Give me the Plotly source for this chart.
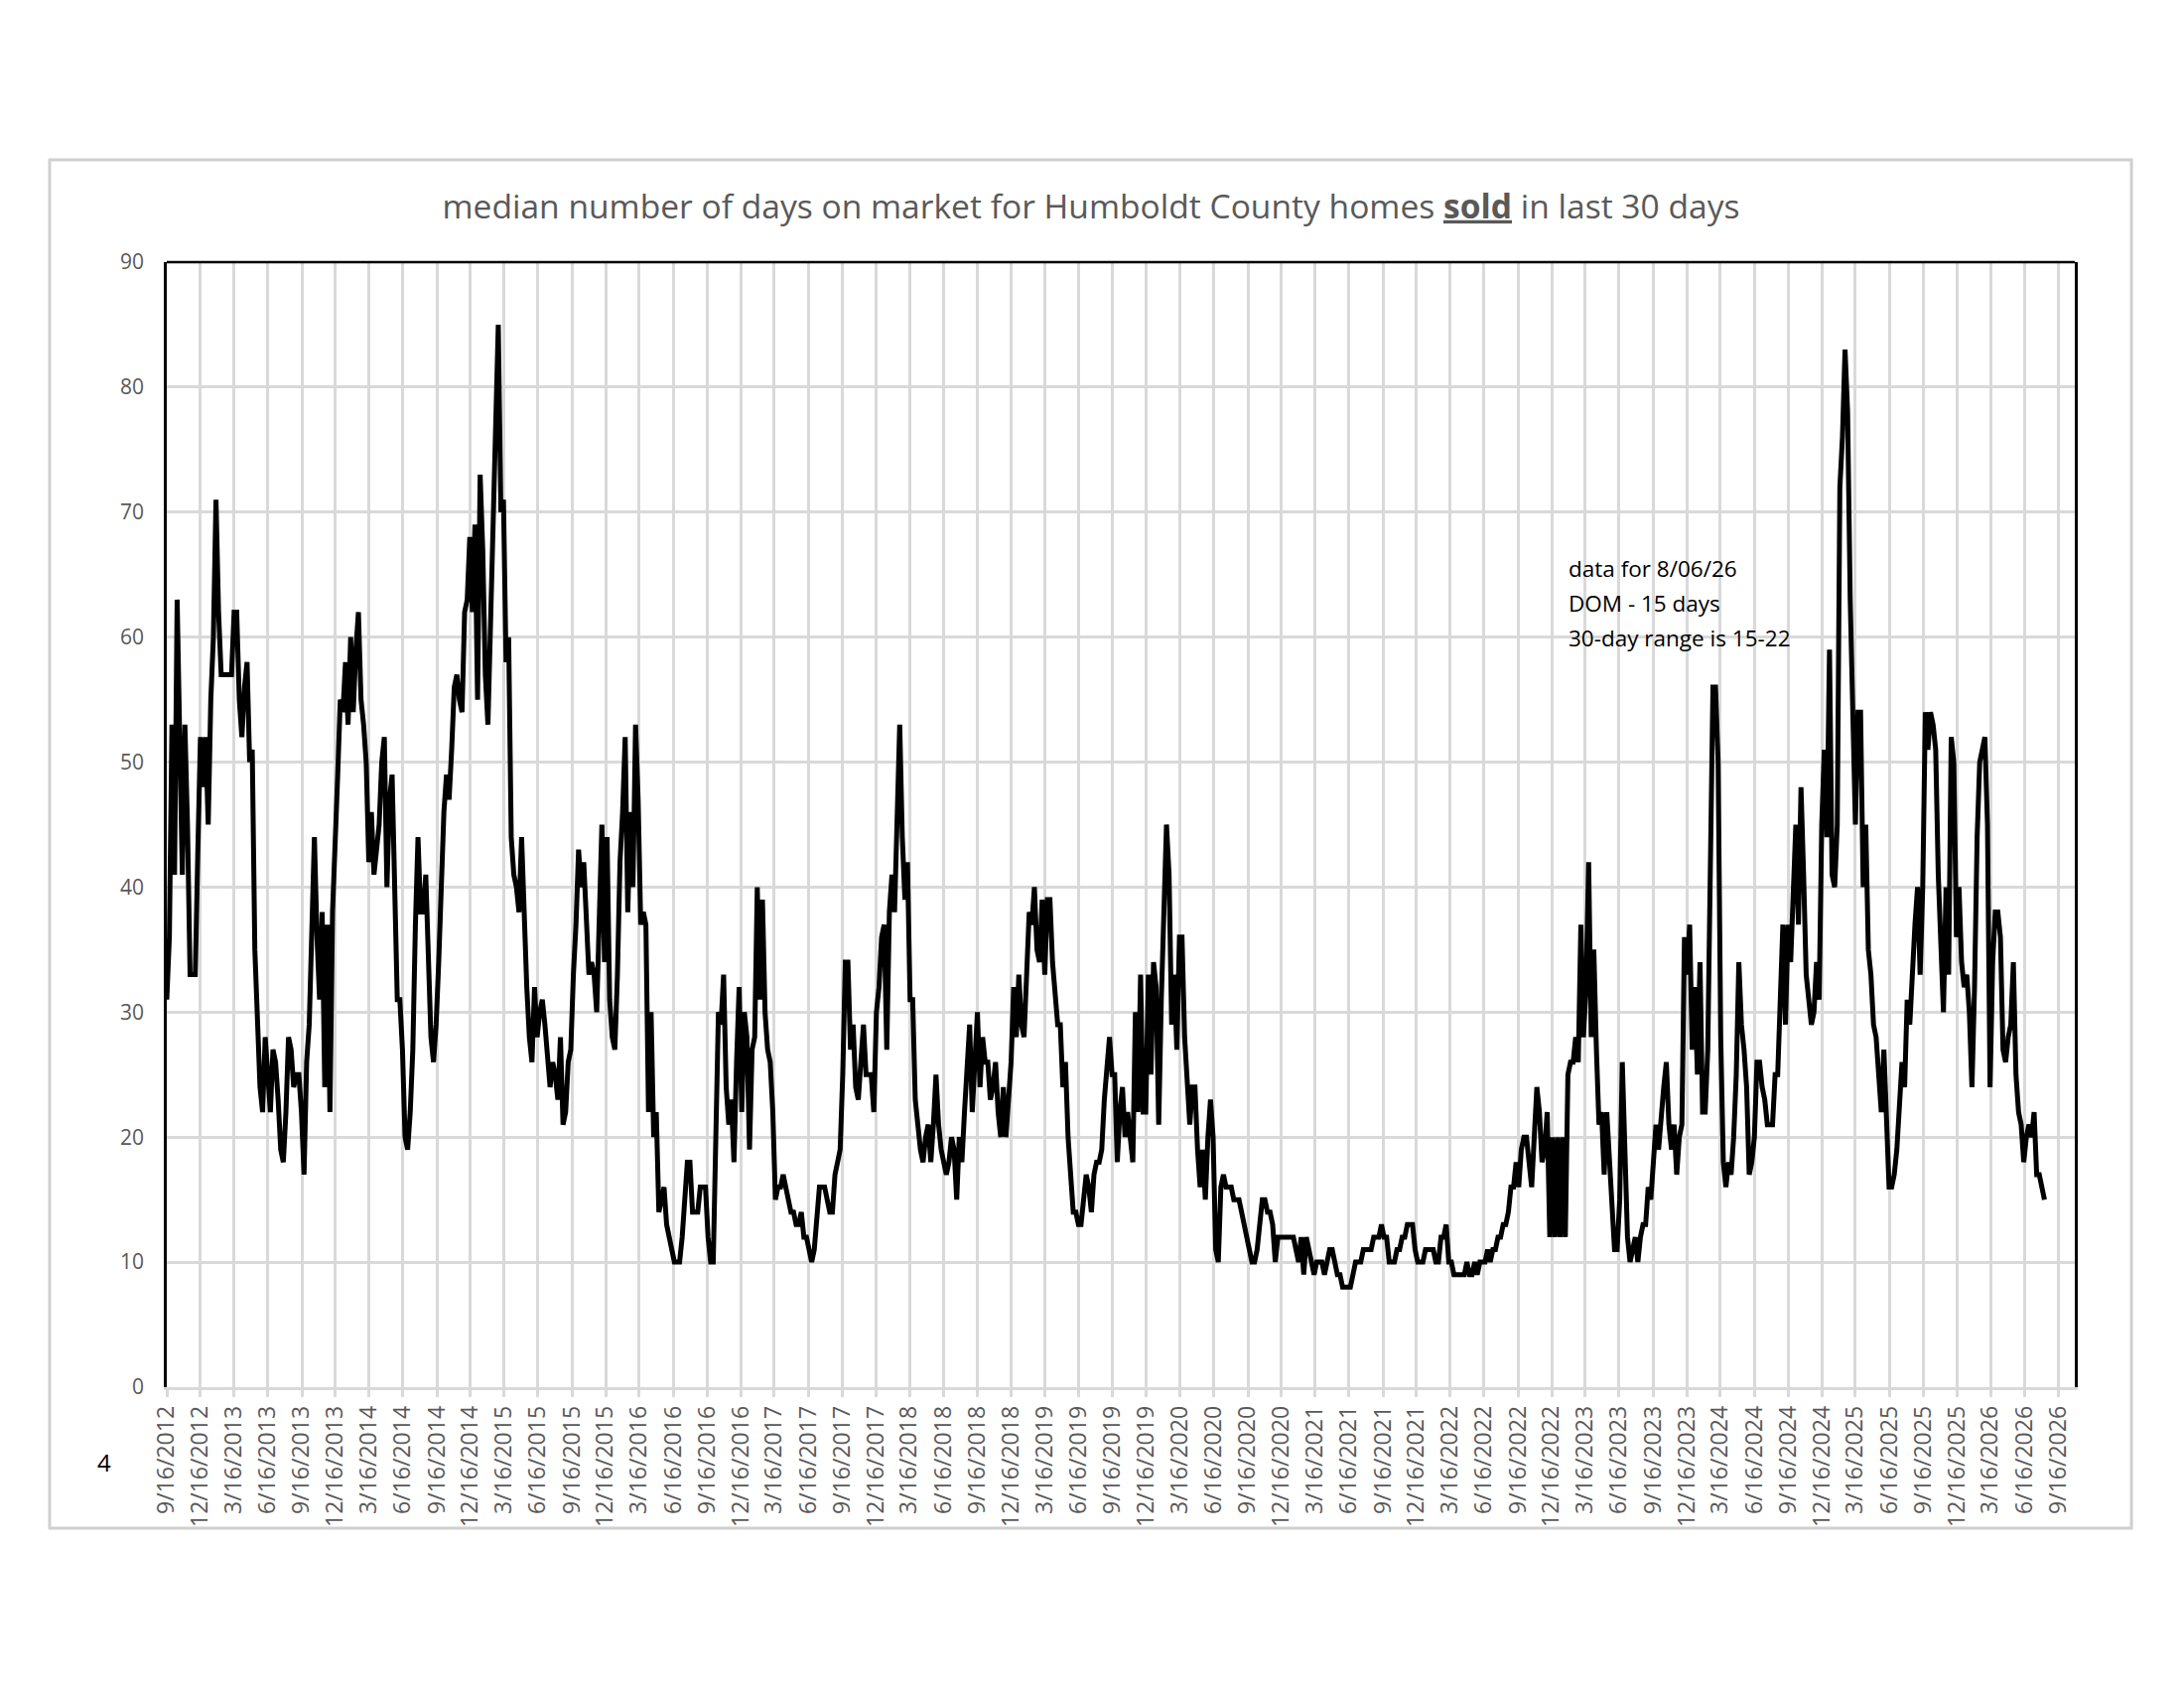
import pandas as pd
import plotly.graph_objects as go

# weekly readings of median days on market, starting 9/16/2012
dom_2012 = [31, 36, 53, 41, 63, 52, 41, 53, 45, 33, 33, 33, 43, 52, 48, 52, 45, 55, 60, 71,
            62, 57, 57, 57, 57, 57, 62, 62, 55, 52, 56, 58, 50, 51, 35, 29, 24, 22, 28, 25,
            22, 27, 26, 23, 19, 18, 22, 28, 27, 24, 25, 25]
dom_2013 = [22, 17, 26, 29, 38, 44, 36, 31, 38, 24, 37, 22, 38, 45, 49, 55, 54, 58, 53, 60,
            54, 59, 62, 55, 53, 50, 42, 46, 41, 43, 45, 50, 52, 40, 47, 49, 38, 31, 31, 27,
            20, 19, 22, 27, 37, 44, 38, 38, 41, 33, 28, 26]
dom_2014 = [29, 34, 40, 46, 49, 47, 51, 56, 57, 55, 54, 62, 63, 68, 62, 69, 55, 73, 67, 57,
            53, 62, 70, 77, 85, 70, 71, 58, 60, 44, 41, 40, 38, 44, 37, 32, 28, 26, 32, 28,
            30, 31, 29, 26, 24, 26, 25, 23, 28, 21, 22, 26]
dom_2015 = [27, 33, 37, 43, 40, 42, 37, 33, 34, 33, 30, 39, 45, 34, 44, 31, 28, 27, 33, 42,
            46, 52, 38, 46, 40, 53, 47, 37, 38, 37, 22, 30, 20, 22, 14, 15, 16, 13, 12, 11,
            10, 10, 10, 12, 15, 18, 18, 14, 14, 14, 16, 16]
dom_2016 = [16, 12, 10, 10, 22, 30, 29, 33, 24, 21, 23, 18, 26, 32, 22, 30, 28, 19, 27, 28,
            40, 31, 39, 30, 27, 26, 22, 15, 16, 16, 17, 16, 15, 14, 14, 13, 13, 14, 12, 12,
            11, 10, 11, 14, 16, 16, 16, 15, 14, 14, 17, 18]
dom_2017 = [19, 25, 34, 34, 27, 29, 24, 23, 26, 29, 25, 25, 25, 22, 30, 32, 36, 37, 27, 38,
            41, 38, 45, 53, 44, 39, 42, 31, 31, 23, 21, 19, 18, 20, 21, 18, 21, 25, 21, 19,
            18, 17, 18, 20, 19, 15, 20, 18, 22, 26, 29, 22]
dom_2018 = [27, 30, 24, 28, 26, 26, 23, 24, 26, 22, 20, 24, 20, 23, 26, 32, 28, 33, 29, 28,
            34, 38, 37, 40, 35, 34, 39, 33, 39, 39, 34, 31, 29, 29, 24, 26, 20, 17, 14, 14,
            13, 13, 15, 17, 16, 14, 17, 18, 18, 19, 23, 26]
dom_2019 = [28, 25, 25, 18, 22, 24, 20, 22, 20, 18, 30, 22, 33, 22, 22, 33, 25, 34, 32, 21,
            31, 38, 45, 41, 29, 33, 27, 36, 36, 28, 25, 21, 24, 24, 19, 16, 19, 15, 20, 23,
            20, 11, 10, 16, 17, 16, 16, 16, 15, 15, 15, 14]
dom_2020 = [13, 12, 11, 10, 10, 11, 13, 15, 15, 14, 14, 13, 10, 12, 12, 12, 12, 12, 12, 12,
            11, 10, 12, 9, 12, 11, 10, 9, 10, 10, 10, 9, 10, 11, 11, 10, 9, 9, 8, 8,
            8, 8, 9, 10, 10, 10, 11, 11, 11, 11, 12, 12]
dom_2021 = [12, 13, 12, 12, 10, 10, 10, 11, 11, 12, 12, 13, 13, 13, 11, 10, 10, 10, 11, 11,
            11, 11, 10, 10, 12, 12, 13, 10, 10, 9, 9, 9, 9, 9, 10, 9, 9, 10, 9, 10,
            10, 10, 11, 10, 11, 11, 12, 12, 13, 13, 14, 16]
dom_2022 = [16, 18, 16, 19, 20, 20, 18, 16, 20, 24, 22, 18, 19, 22, 12, 20, 12, 20, 12, 20,
            12, 25, 26, 26, 28, 26, 37, 28, 32, 42, 28, 35, 27, 21, 22, 17, 22, 18, 14, 11,
            11, 15, 26, 18, 12, 10, 11, 12, 10, 12, 13, 13]
dom_2023 = [16, 15, 18, 21, 19, 22, 24, 26, 21, 19, 21, 17, 20, 21, 36, 33, 37, 27, 32, 25,
            34, 22, 22, 27, 40, 56, 56, 50, 28, 18, 16, 18, 17, 20, 25, 34, 29, 27, 24, 17,
            18, 20, 26, 26, 24, 23, 21, 21, 21, 25, 25, 31]
dom_2024 = [37, 29, 37, 34, 41, 45, 37, 48, 41, 33, 31, 29, 30, 34, 31, 45, 51, 44, 59, 41,
            40, 45, 72, 76, 83, 78, 63, 55, 45, 54, 54, 40, 45, 35, 33, 29, 28, 25, 22, 27,
            20, 16, 16, 17, 19, 23, 26, 24, 31, 29, 34, 37]
dom_2025 = [40, 33, 40, 54, 51, 54, 53, 51, 41, 34, 30, 40, 33, 52, 50, 36, 40, 34, 32, 33,
            30, 24, 32, 44, 50, 51, 52, 45, 24, 34, 38, 38, 36, 27, 26, 28, 29, 34, 25, 22,
            21, 18, 20, 21, 20, 22, 17, 17, 16, 15]

start_date = "2012-09-16"
last_tick = "2026-09-16"
axis_end = "2026-10-30"

title_text = ("median number of days on market for Humboldt County homes "
              "<b><u>sold</u></b> in last 30 days")
note_lines = ["data for 8/06/26", "DOM - 15 days", "30-day range is 15-22"]

values = (dom_2012 + dom_2013 + dom_2014 + dom_2015 + dom_2016 + dom_2017 + dom_2018
          + dom_2019 + dom_2020 + dom_2021 + dom_2022 + dom_2023 + dom_2024 + dom_2025)
dates = pd.date_range(start_date, periods=len(values), freq="7D")

tick_dates = pd.date_range(start_date, last_tick, freq=pd.DateOffset(months=3))
tick_text = [f"{d.month}/{d.day}/{d.year}" for d in tick_dates]

GRID = "#d9d9d9"
TXT = "#595959"
FONT = "Open Sans"

fig = go.Figure()
fig.add_trace(go.Scatter(x=dates, y=values, mode="lines",
                         line=dict(color="black", width=5)))

# the page body adds an 8px offset, so the margins are shifted to compensate
fig.update_layout(
    width=2200, height=1700,
    margin=dict(l=160, r=118, t=256, b=311),
    paper_bgcolor="white", plot_bgcolor="white",
    showlegend=False,
    font=dict(family=FONT, color=TXT),
    title=dict(text=title_text, x=1091 / 2200, xref="container", xanchor="center",
               y=1 - 200 / 1700, yref="container", yanchor="middle",
               font=dict(family=FONT, size=33.6, color=TXT)),
)

fig.update_xaxes(
    type="date", range=[start_date, axis_end],
    tickvals=tick_dates, ticktext=tick_text, tickangle=-90,
    tickfont=dict(family=FONT, size=23, color=TXT),
    ticks="outside", ticklen=7, tickwidth=2.5, tickcolor=GRID,
    showgrid=True, gridcolor=GRID, gridwidth=2.5,
    showline=True, linecolor=GRID, linewidth=2.5,
    zeroline=False,
)
fig.update_yaxes(
    range=[0, 90], tickvals=list(range(0, 91, 10)),
    tickfont=dict(family=FONT, size=21, color=TXT),
    ticks="", ticklabelstandoff=16,
    showgrid=True, gridcolor=GRID, gridwidth=2.5,
    showline=True, linecolor="black", linewidth=2.5, mirror=True,
    zeroline=False,
)

# black top edge of the plot area and the light outer chart frame
fig.add_shape(type="line", xref="paper", yref="paper", x0=0, x1=1, y0=1, y1=1,
              line=dict(color="black", width=2.5))
fig.add_shape(type="rect", xref="paper", yref="paper",
              x0=-0.0614, x1=1.0297, y0=-0.1253, y1=1.0909,
              line=dict(color="#d0d0d0", width=3))

for k, line in enumerate(note_lines):
    fig.add_annotation(text=line, xref="paper", yref="paper",
                       x=0.7336, y=0.728 - k * 0.0312, xanchor="left", yanchor="middle",
                       showarrow=False, font=dict(family=FONT, size=22.5, color="black"))

fig.add_annotation(text="4", xref="paper", yref="paper", x=-0.0328, y=-0.067,
                   xanchor="center", yanchor="middle", showarrow=False,
                   font=dict(family=FONT, size=24, color="black"))

fig.write_html("out.html")
